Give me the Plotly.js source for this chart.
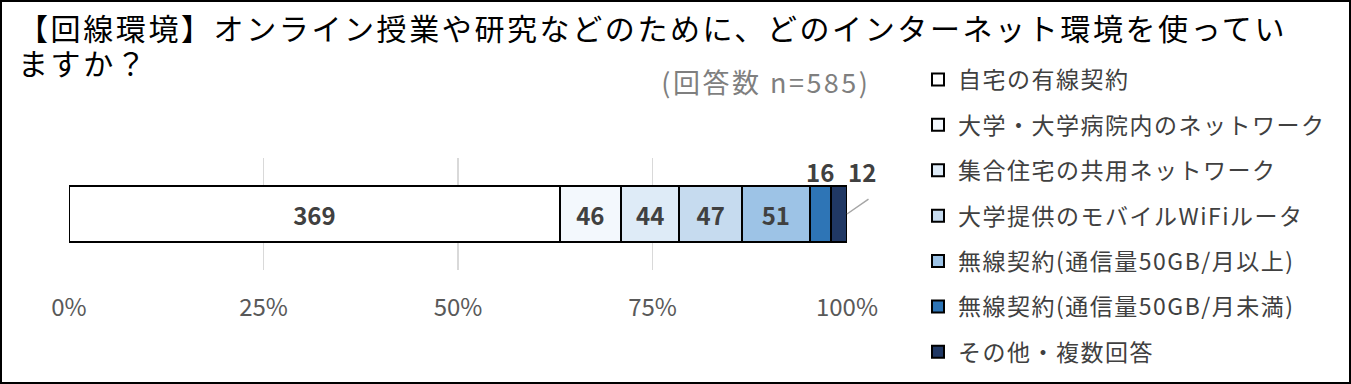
<!DOCTYPE html>
<html>
<head>
<meta charset="utf-8">
<script src="https://cdn.plot.ly/plotly-3.0.1.min.js"></script>
<style>
html,body{margin:0;padding:0;background:#fff;}
#wrap{position:relative;width:1351px;height:384px;}
#chart{width:1351px;height:384px;}
#frame{position:absolute;left:0;top:0;width:1351px;height:384px;box-sizing:border-box;border:2px solid #000;pointer-events:none;}
.legendtext{letter-spacing:1.5px;}
</style>
</head>
<body>
<div id="wrap"><div id="chart"></div><div id="frame"></div></div>
<script>
const titleLines = ["【回線環境】オンライン授業や研究などのために、どのインターネット環境を使ってい", "ますか？"];
const categories = ["自宅の有線契約","大学・大学病院内のネットワーク","集合住宅の共用ネットワーク","大学提供のモバイルWiFiルータ","無線契約(通信量50GB/月以上)","無線契約(通信量50GB/月未満)","その他・複数回答"];
const counts = [369, 46, 44, 47, 51, 16, 12];
const colors = ["#ffffff","#f3f8fd","#deebf7","#c6dbef","#9dc3e6","#2e75b6","#203864"];
const insideLabel = [true, true, true, true, true, false, false];
const totalN = 585;
const tickVals = [0, 25, 50, 75, 100];

const FONT = '"Noto Sans CJK JP", "Noto Sans", sans-serif';
const total = counts.reduce((a,b)=>a+b,0);

const traces = categories.map((name,i)=>({
  type:'bar', orientation:'h', name:name,
  y:['回線環境'], x:[counts[i]], text:[String(counts[i])],
  texttemplate: insideLabel[i] ? '%{text}' : '',
  textposition: insideLabel[i] ? 'inside' : 'none',
  insidetextanchor:'middle',
  insidetextfont:{family:FONT,size:24,color:'#404040',weight:600},
  marker:{color:colors[i], line:{color:'#000000', width:2}},
  width:0.5, legendgroup:'g'+i, hoverinfo:'name+x'
}));

// plot area: x 69..847 px, y 158..270 px
const PT = 158, PB = 270, PL = 69, PR = 847;
const pxToPaperY = py => (PB - py) / (PB - PT);
const pxToPaperX = px => (px - PL) / (PR - PL);

const annotations = [];
let cum = 0;
const shares = counts.map(c=>c/total*100);
const starts = shares.map(s=>{const st=cum; cum+=s; return st;});
categories.forEach((c,i)=>{
  if(insideLabel[i]) return;
  const mid = starts[i] + shares[i]/2;
  if(i === counts.length-1){
    const end = starts[i]+shares[i];
    annotations.push({x:end, y:0, xref:'x', yref:'y', text:' ', font:{size:1},
      showarrow:true, arrowhead:0, arrowwidth:1.5, arrowcolor:'#a6a6a6', ax:23, ay:-16, standoff:0});
    annotations.push({x:end, y:0.25, xref:'x', yref:'y', yanchor:'bottom', yshift:-5, xshift:15, text:'<b>'+counts[i]+'</b>',
      showarrow:false, font:{family:FONT,size:24,color:'#404040'}});
  } else {
    annotations.push({x:mid, y:0.25, xref:'x', yref:'y', yanchor:'bottom', yshift:-5, text:'<b>'+counts[i]+'</b>',
      showarrow:false, font:{family:FONT,size:24,color:'#404040'}});
  }
});
annotations.push({xref:'paper', yref:'paper', x:pxToPaperX(766), y:pxToPaperY(81), xanchor:'center', yanchor:'middle',
  text:'(回答数 n='+totalN+')', showarrow:false, font:{family:FONT,size:27,color:'#7f7f7f'}});
const titleY = [27, 62];
titleLines.forEach((t,i)=>{
  annotations.push({xref:'paper', yref:'paper', x:pxToPaperX(16), y:pxToPaperY(titleY[i]), xanchor:'left', yanchor:'middle',
    align:'left', text:t, showarrow:false, font:{family:FONT,size:30,color:'#000000'}});
});

const layout = {
  width:1351, height:384,
  margin:{l:PL, r:1351-PR, t:PT, b:384-PB, pad:0},
  paper_bgcolor:'#ffffff', plot_bgcolor:'#ffffff',
  barmode:'stack', barnorm:'percent',
  font:{family:FONT, color:'#595959'},
  xaxis:{range:[0,100], tickvals:tickVals, ticktext:tickVals.map(v=>v+'%'),
    showgrid:true, gridcolor:'#d9d9d9', gridwidth:1.5, zeroline:false, showline:false,
    ticks:'', ticklabelstandoff:21, tickfont:{family:FONT,size:24,color:'#595959'}, fixedrange:true},
  yaxis:{visible:false, range:[-0.5,0.5], fixedrange:true},
  showlegend:true,
  legend:{xref:'container', yref:'container', x:918/1351, y:1-58/384, xanchor:'left', yanchor:'top',
    traceorder:'grouped', tracegroupgap:12.5, font:{family:FONT,size:23,color:'#404040'},
    bgcolor:'rgba(0,0,0,0)', itemwidth:30, maxheight:1},
  annotations:annotations
};
Plotly.newPlot('chart', traces, layout, {displayModeBar:false, staticPlot:true}).then(gd=>{
  // widen glyph spacing of title and note to match the original typeface's advance widths
  gd.querySelectorAll('.annotation-text').forEach(el=>{
    const t = el.textContent;
    if(titleLines.indexOf(t) >= 0) el.style.letterSpacing = '2.6px';
    else if(t.indexOf('回答数') >= 0) el.style.letterSpacing = '2.5px';
  });
});
</script>
</body>
</html>
